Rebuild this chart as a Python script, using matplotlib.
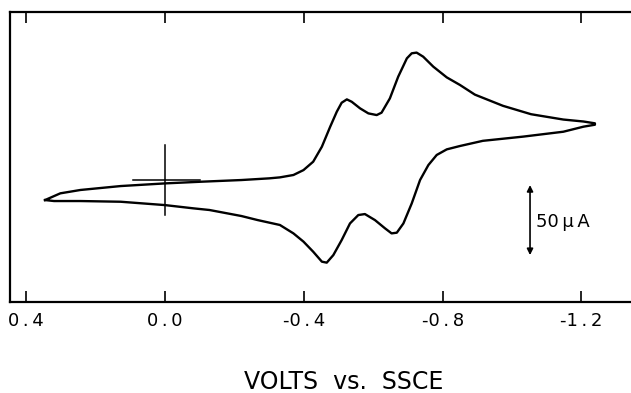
import numpy as np
import matplotlib
matplotlib.use("Agg")
import matplotlib.pyplot as plt

# cyclic voltammogram, potential in V vs SSCE, current in microamps (cathodic up)
fwd_volts = [0.346, 0.302, 0.244, 0.128, 0.0, -0.104, -0.220, -0.300, -0.331, -0.370,
             -0.399, -0.427, -0.452, -0.476, -0.495, -0.509, -0.524, -0.538, -0.562,
             -0.586, -0.610, -0.624, -0.648, -0.672, -0.697, -0.711, -0.725, -0.744,
             -0.773, -0.812, -0.850, -0.893, -0.974, -1.055, -1.148, -1.206, -1.239]
fwd_current = [-14.3, -9.5, -7.1, -4.3, -2.4, -1.2, 0.0, 1.2, 1.9, 3.6,
               7.1, 13.1, 23.8, 38.1, 48.8, 55.2, 57.6, 55.9, 51.2,
               47.6, 46.4, 48.1, 58.3, 73.8, 86.9, 90.5, 91.0, 88.1,
               81.0, 73.3, 67.9, 61.0, 53.0, 47.0, 43.2, 41.8, 40.5]
rev_volts = [-1.239, -1.206, -1.148, -1.032, -0.916, -0.850, -0.812, -0.783, -0.759,
             -0.735, -0.711, -0.687, -0.668, -0.653, -0.634, -0.605, -0.576, -0.557,
             -0.533, -0.509, -0.485, -0.466, -0.452, -0.427, -0.399, -0.370, -0.331,
             -0.267, -0.220, -0.128, -0.081, 0.0, 0.128, 0.244, 0.320, 0.346]
rev_current = [39.5, 38.1, 34.5, 31.0, 28.0, 24.3, 21.9, 17.9, 10.7,
               0.0, -16.7, -31.0, -37.6, -38.1, -34.5, -28.6, -24.3, -25.0,
               -31.0, -42.9, -53.6, -59.0, -58.3, -51.2, -44.0, -38.1, -32.1,
               -28.6, -25.7, -21.4, -20.2, -17.9, -15.5, -15.0, -15.0, -14.3]

tick_volts = [0.4, 0.0, -0.4, -0.8, -1.2]
tick_labels = ["0.4", "0.0", "-0.4", "-0.8", "-1.2"]

fig = plt.figure(figsize=(6.31, 3.93), dpi=100)
ax = fig.add_axes([10 / 631, 91 / 393, 630 / 631, 290 / 393])

v = np.array(fwd_volts + rev_volts)
i = np.array(fwd_current + rev_current)
ax.plot(v, i, color="black", lw=1.7, solid_joinstyle="round")

# zero-current cross at 0.0 V
ax.plot([0, 0], [-25, 25], color="black", lw=1.1)
ax.plot([0.092, -0.101], [0, 0], color="black", lw=1.1)

# 50 uA scale bar
ax.annotate("", xy=(-1.052, -53.6), xytext=(-1.052, -3.6),
            arrowprops=dict(arrowstyle="<|-|>", color="black", lw=1.2,
                            mutation_scale=9, shrinkA=0, shrinkB=0))
ax.text(-1.07, -30.0, "50\u2009\u03bc\u2009A", fontsize=13, va="center", ha="left")

ax.set_xlim(0.447, -1.369)
ax.set_ylim(-87.1, 120)
ax.set_xticks(tick_volts)
ax.set_xticklabels([t.replace(".", "\u2009.\u2009") for t in tick_labels], fontsize=13)
ax.set_yticks([])
ax.tick_params(axis="x", direction="in", top=True, bottom=True, length=8,
               width=1.2, pad=7)
for s in ax.spines.values():
    s.set_linewidth(1.6)

fig.text(344 / 631, 1 - 382 / 393, "VOLTS  vs.  SSCE", fontsize=17,
         ha="center", va="center")

fig.savefig("out.png", dpi=100)
